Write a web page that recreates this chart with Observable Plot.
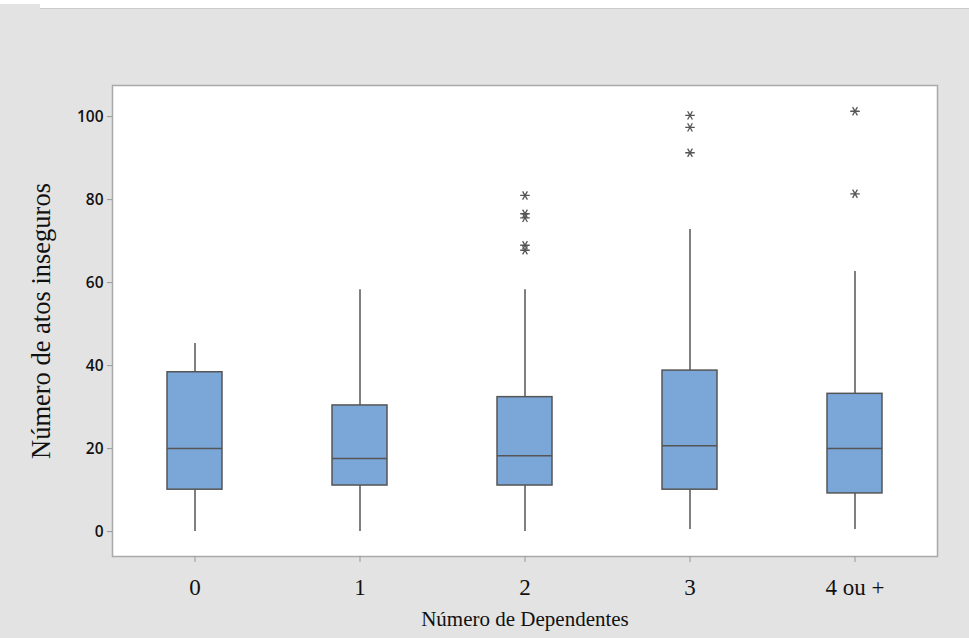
<!DOCTYPE html>
<html>
<head>
<meta charset="utf-8">
<script src="https://cdn.jsdelivr.net/npm/d3@7"></script>
<script src="https://cdn.jsdelivr.net/npm/@observablehq/plot@0.6"></script>
<style>
  html, body { margin: 0; padding: 0; background: #e3e3e3; }
  #wrap { position: relative; width: 969px; height: 638px; }
  #strip { position: absolute; left: 40px; top: 0; width: 929px; height: 8px; background: #fff; border-bottom: 1px solid #cbcbcb; }
  #strip0 { position: absolute; left: 0; top: 0; width: 40px; height: 4px; background: #fff; }
</style>
</head>
<body>
<div id="wrap"><div id="strip0"></div><div id="strip"></div></div>
<script>
const categories = ["0", "1", "2", "3", "4 ou +"];
const whiskerLow = [0, 0, 0, 0.5, 0.5];
const q1 = [10.1, 11.1, 11.1, 10.1, 9.2];
const median = [20, 17.6, 18.3, 20.7, 20];
const q3 = [38.4, 30.4, 32.4, 38.8, 33.2];
const whiskerHigh = [45.3, 58.3, 58.3, 72.8, 62.7];
const outlierGroup = ["2", "2", "2", "2", "2", "3", "3", "3", "4 ou +", "4 ou +"];
const outlierValue = [81, 76.6, 75.6, 69, 67.8, 100.3, 97.4, 91.3, 101.3, 81.4];
const yTicks = [0, 20, 40, 60, 80, 100];
const xLabel = "Número de Dependentes";
const yLabel = "Número de atos inseguros";

const boxes = categories.map((c, i) => ({
  cat: c, lo: whiskerLow[i], q1: q1[i], med: median[i], q3: q3[i], hi: whiskerHigh[i]
}));
const outliers = outlierGroup.map((g, i) => ({cat: g, v: outlierValue[i]}));

const boxFill = "#7ba6d8";
const ink = "#555555";

const chart = Plot.plot({
  width: 969,
  height: 638,
  marginLeft: 112,
  marginRight: 32,
  marginTop: 85,
  marginBottom: 82,
  style: {background: "#e3e3e3", overflow: "visible"},
  x: {type: "band", domain: categories, padding: 0},
  y: {domain: [-6, 107.5]},
  marks: [
    Plot.frame({fill: "white", stroke: "#a9a9a9", strokeWidth: 1.5}),
    Plot.ruleX(boxes, {x: "cat", y1: "lo", y2: "q1", stroke: ink, strokeWidth: 1.5}),
    Plot.ruleX(boxes, {x: "cat", y1: "q3", y2: "hi", stroke: ink, strokeWidth: 1.5}),
    Plot.barY(boxes, {x: "cat", y1: "q1", y2: "q3", fill: boxFill, stroke: ink, strokeWidth: 1.5, insetLeft: 55, insetRight: 55}),
    Plot.tickY(boxes, {x: "cat", y: "med", stroke: ink, strokeWidth: 1.5, insetLeft: 55, insetRight: 55}),
    Plot.dot(outliers, {x: "cat", y: "v", symbol: "asterisk", r: 4.5, stroke: ink, strokeWidth: 1.3, rotate: 90}),
    Plot.axisY({ticks: yTicks, tickSize: 5, tickPadding: 4, fontSize: 15.5, fontWeight: 600, fontFamily: "Open Sans", color: "#111", stroke: "#999", label: null}),
    Plot.axisX({tickSize: 6, tickPadding: 16, fontSize: 23, fontFamily: "Liberation Serif", color: "#111", stroke: "#999", label: null}),
    Plot.text([xLabel], {frameAnchor: "bottom", dy: 69, fontSize: 21, fontFamily: "Liberation Serif", fill: "#111"}),
    Plot.text([yLabel], {frameAnchor: "left", textAnchor: "middle", dx: -71, rotate: -90, fontSize: 26.5, fontFamily: "Liberation Serif", fill: "#111"})
  ]
});
chart.style.position = "absolute";
chart.style.left = "0";
chart.style.top = "0";
document.getElementById("wrap").prepend(chart);
</script>
</body>
</html>
